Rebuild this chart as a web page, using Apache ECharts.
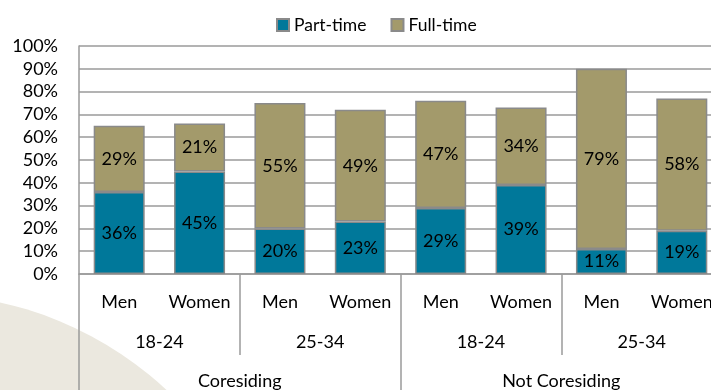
<!DOCTYPE html>
<html>
<head>
<meta charset="utf-8">
<script src="https://cdn.jsdelivr.net/npm/echarts@6/dist/echarts.min.js"></script>
<style>
  html, body { margin: 0; padding: 0; background: #fff; overflow: hidden; }
  #chart { width: 722px; height: 390px; }
</style>
</head>
<body>
<div id="chart"></div>
<script>
var sexLabels = ['Men', 'Women', 'Men', 'Women', 'Men', 'Women', 'Men', 'Women'];
var ageLabels = ['18-24', '25-34', '18-24', '25-34'];
var livingLabels = ['Coresiding', 'Not Coresiding'];
var partTime = [36, 45, 20, 23, 29, 39, 11, 19];
var fullTime = [29, 21, 55, 49, 47, 34, 79, 58];
var yTicks = [0, 100, 10];

var font = 'Lato';
var gridColor = '#9a9a9a';

// the original picture is cropped on the right, so the chart is a bit wider than the window
var myChart = echarts.init(document.getElementById('chart'));

function barSeries(name, values, color) {
    return {
        name: name,
        type: 'bar',
        stack: 'all',
        barWidth: 51,
        data: values,
        itemStyle: { color: color, borderColor: '#8a8a8a', borderWidth: 1.5 },
        label: {
            show: true,
            position: 'inside',
            formatter: '{c}%',
            color: '#000',
            fontFamily: font,
            fontSize: 18
        }
    };
}

var option = {
    backgroundColor: '#fff',
    animation: false,
    graphic: [{
        type: 'circle',
        z: -100,
        silent: true,
        shape: { cx: -77, cy: 651, r: 357 },
        style: { fill: '#ebe8df' }
    }],
    legend: {
        top: 11,
        left: 271,
        itemWidth: 12,
        itemHeight: 12,
        itemGap: 24,
        icon: 'rect',
        textStyle: { fontFamily: font, fontSize: 17.5, color: '#000' },
        data: ['Part-time', 'Full-time']
    },
    grid: { left: 79, top: 46, right: 0, bottom: 116 },
    xAxis: [{
        type: 'category',
        position: 'bottom',
        data: sexLabels,
        axisLine: { lineStyle: { color: gridColor, width: 1.5 } },
        axisTick: { show: false },
        axisLabel: { interval: 0, margin: 19, color: '#000', fontFamily: font, fontSize: 18 }
    }, {
        type: 'category',
        position: 'bottom',
        data: ageLabels,
        axisLine: { show: false },
        axisTick: { show: true, length: 81, lineStyle: { color: gridColor, width: 1.5 } },
        axisLabel: { interval: 0, margin: 59, color: '#000', fontFamily: font, fontSize: 18 }
    }, {
        type: 'category',
        position: 'bottom',
        data: livingLabels,
        axisLine: { show: false },
        axisTick: { show: true, length: 130, lineStyle: { color: gridColor, width: 1.5 } },
        axisLabel: { interval: 0, margin: 98, color: '#000', fontFamily: font, fontSize: 18 }
    }],
    yAxis: {
        type: 'value',
        min: yTicks[0],
        max: yTicks[1],
        interval: yTicks[2],
        axisLine: { show: true, lineStyle: { color: gridColor, width: 1.5 } },
        axisTick: { show: false },
        splitLine: { lineStyle: { color: gridColor, width: 1.5 } },
        axisLabel: { margin: 21, formatter: '{value}%', color: '#000', fontFamily: font, fontSize: 18 }
    },
    series: [
        barSeries('Part-time', partTime, '#00789a'),
        barSeries('Full-time', fullTime, '#a39a6b')
    ]
};

myChart.setOption(option);
</script>
</body>
</html>
